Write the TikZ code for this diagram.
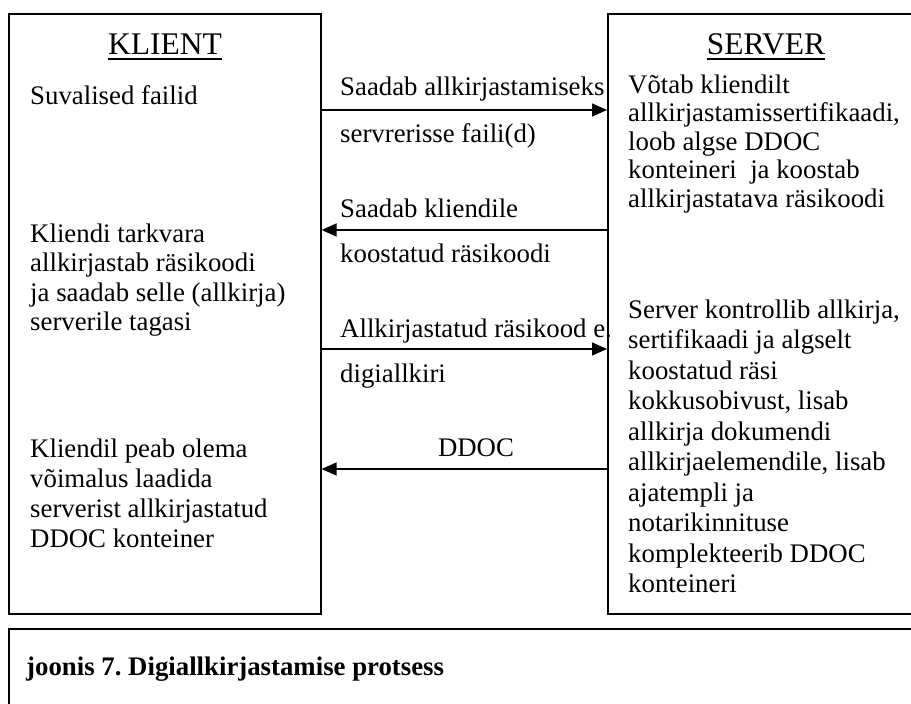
\documentclass[tikz,border=0pt]{standalone}
\usepackage{fontspec}
\setmainfont{Liberation Serif}
\usetikzlibrary{arrows.meta}
\frenchspacing
\newcommand\myul[1]{\setbox0\hbox{#1}\rlap{\rule[-5.5pt]{\wd0}{1.8pt}}\box0}
\begin{document}
\begin{tikzpicture}[x=1pt,y=-1pt,
  box/.style={draw, line width=1.6pt, inner sep=0pt, anchor=north west},
  head/.style={anchor=base, inner sep=0pt, font=\fontsize{31.5}{34}\selectfont},
  txt/.style={anchor=base west, align=left, inner sep=0pt, font=\fontsize{26.8}{#1}\selectfont},
  txt/.default=29.5,
  lbl/.style={anchor=base west, inner sep=0pt, font=\fontsize{26.8}{29.5}\selectfont},
  arr/.style={line width=1.5pt, -{Triangle[length=15pt,width=13pt]}}]
\useasboundingbox (0,0) rectangle (911,704);
\clip (0,0) rectangle (911,704);
% boxes
\node[box, minimum width=312pt, minimum height=600pt] (klient) at (8,13) {};
\node[box, minimum width=320pt, minimum height=600pt] (server) at (607,13) {};
\node[box, minimum width=920pt, minimum height=100pt] (cap) at (8,628) {};
% headings
\node[head] (kh) at (165,54) {\myul{KLIENT}};
\node[head] (sh) at (766,54) {\myul{SERVER}};
% client texts (anchor = baseline of last line)
\node[txt] (c1) at (30,104) {Suvalised failid};
\node[txt=29.5] (c2) at (30,330.5) {Kliendi tarkvara\\allkirjastab räsikoodi\\ja saadab selle (allkirja)\\serverile tagasi};
\node[txt=30] (c3) at (30,547) {Kliendil peab olema\\võimalus laadida\\serverist allkirjastatud\\DDOC konteiner};
% server texts
\node[txt=28.5] (s1) at (628,207) {Võtab kliendilt\\allkirjastamissertifikaadi,\\loob algse DDOC\\konteineri~ ja koostab\\allkirjastatava räsikoodi};
\node[txt=30.5] (s2) at (628,592.5) {Server kontrollib allkirja,\\sertifikaadi ja algselt\\koostatud räsi\\kokkusobivust, lisab\\allkirja dokumendi\\allkirjaelemendile, lisab\\ajatempli ja\\notarikinnituse\\komplekteerib DDOC\\konteineri};
% arrows
\coordinate (y1) at (0,110);
\coordinate (y2) at (0,230);
\coordinate (y3) at (0,349);
\coordinate (y4) at (0,469);
\draw[arr] (klient.east |- y1) -- (server.west |- y1);
\draw[arr] (server.west |- y2) -- (klient.east |- y2);
\draw[arr] (klient.east |- y3) -- (server.west |- y3);
\draw[arr] (server.west |- y4) -- (klient.east |- y4);
% arrow labels
\node[lbl] (l1) at (340,95) {Saadab allkirjastamiseks};
\node[lbl] (l2) at (340,142) {servrerisse faili(d)};
\node[lbl] (l3) at (340,217) {Saadab kliendile};
\node[lbl] (l4) at (340,262) {koostatud räsikoodi};
\node[lbl] (l5) at (340,337) {Allkirjastatud räsikood e.};
\node[lbl] (l6) at (340,382) {digiallkiri};
\node[lbl, anchor=base] (l7) at (476,456) {DDOC};
% caption
\node[lbl, font=\bfseries\fontsize{26.8}{29.5}\selectfont] (capt) at (26,675) {joonis 7. Digiallkirjastamise protsess};
\end{tikzpicture}
\end{document}
